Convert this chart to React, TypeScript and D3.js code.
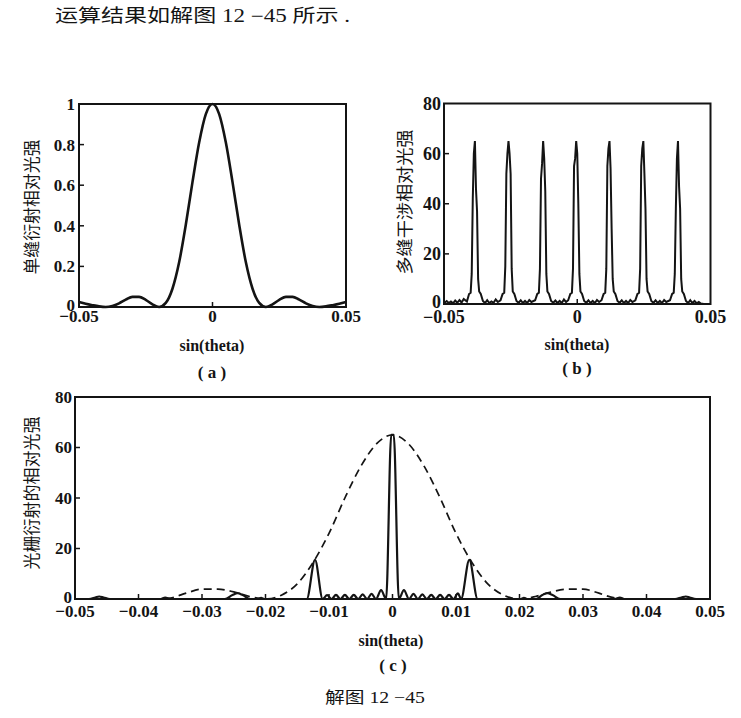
import React from 'react';
import * as d3 from 'd3';

// ---------- Data ----------
// (a) single-slit relative intensity
const slitX = [-0.05, -0.0475, -0.045, -0.0425, -0.04, -0.0375, -0.035, -0.0325, -0.03, -0.0275, -0.025, -0.0225, -0.02, -0.0175, -0.015, -0.0125, -0.01, -0.0075, -0.005, -0.0025, 0, 0.0025, 0.005, 0.0075, 0.01, 0.0125, 0.015, 0.0175, 0.02, 0.0225, 0.025, 0.0275, 0.03, 0.0325, 0.035, 0.0375, 0.04, 0.0425, 0.045, 0.0475, 0.05];
const slitI = [0.025, 0.016, 0.009, 0.003, 0.0, 0.005, 0.018, 0.036, 0.05, 0.05, 0.035, 0.013, 0.0, 0.02, 0.09, 0.22, 0.405, 0.615, 0.81, 0.95, 1.0, 0.95, 0.81, 0.615, 0.405, 0.22, 0.09, 0.02, 0.0, 0.013, 0.035, 0.05, 0.05, 0.036, 0.018, 0.005, 0.0, 0.003, 0.009, 0.016, 0.025];

// (b) multi-slit interference relative intensity
const multiSlit: [number, number][] = [
  [-0.05, 0.3], [-0.049, 1.2], [-0.0482, 0.4], [-0.0474, 1.0], [-0.0466, 0.3], [-0.0458, 1.4], [-0.045, 0.5], [-0.0442, 1.6], [-0.0434, 0.6], [-0.0426, 2.0],
  [-0.0414, 1.0], [-0.0406, 4], [-0.04, 4.5], [-0.0396, 12], [-0.0392, 42], [-0.0388, 60], [-0.0384, 65], [-0.038, 46], [-0.0376, 37], [-0.0372, 10], [-0.0368, 5], [-0.0362, 4], [-0.0354, 1.2],
  [-0.0346, 0.4], [-0.0338, 1.5], [-0.033, 0.4], [-0.0322, 1.0], [-0.0314, 0.5], [-0.0306, 1.8], [-0.0298, 0.8],
  [-0.0288, 1.5], [-0.028, 4], [-0.0274, 4.5], [-0.027, 15], [-0.0266, 52], [-0.0262, 60], [-0.0258, 65], [-0.0254, 60], [-0.025, 52], [-0.0246, 14], [-0.0242, 5], [-0.0236, 4], [-0.0228, 1.2],
  [-0.022, 0.5], [-0.0212, 1.5], [-0.0204, 0.4], [-0.0196, 1.2], [-0.0188, 0.4], [-0.018, 1.6], [-0.0172, 0.8],
  [-0.0158, 1.5], [-0.015, 4], [-0.0144, 4.5], [-0.014, 14], [-0.0136, 50], [-0.0132, 56], [-0.0128, 65], [-0.0124, 58], [-0.012, 45], [-0.0116, 12], [-0.0112, 5], [-0.0106, 4], [-0.0098, 1.2],
  [-0.009, 0.5], [-0.0082, 1.4], [-0.0074, 0.4], [-0.0066, 1.2], [-0.0058, 0.4], [-0.005, 1.8], [-0.0042, 0.8],
  [-0.0034, 1.5], [-0.0026, 4], [-0.002, 4.5], [-0.0016, 14], [-0.0012, 55], [-0.0008, 58], [-0.0004, 65], [0.0, 60], [0.0004, 40], [0.0008, 12], [0.0012, 5], [0.0018, 4], [0.0026, 1.2],
  [0.0034, 0.5], [0.0042, 1.5], [0.005, 0.4], [0.0058, 1.2], [0.0066, 0.4], [0.0074, 1.6], [0.0082, 0.8],
  [0.0091, 1.5], [0.0099, 4], [0.0105, 4.5], [0.0109, 14], [0.0113, 55], [0.0117, 62], [0.0121, 65], [0.0125, 54], [0.0129, 30], [0.0133, 10], [0.0137, 5], [0.0143, 4], [0.0151, 1.2],
  [0.0159, 0.5], [0.0167, 1.5], [0.0175, 0.4], [0.0183, 1.2], [0.0191, 0.4], [0.0199, 1.6], [0.0207, 0.8],
  [0.0218, 1.5], [0.0226, 4], [0.0232, 4.5], [0.0236, 14], [0.024, 55], [0.0244, 62], [0.0248, 65], [0.0252, 52], [0.0256, 38], [0.026, 10], [0.0264, 5], [0.027, 4], [0.0278, 1.2],
  [0.0286, 0.5], [0.0294, 1.5], [0.0302, 0.4], [0.031, 1.2], [0.0318, 0.4], [0.0326, 1.6], [0.0334, 0.8],
  [0.0348, 1.5], [0.0356, 4], [0.0362, 4.5], [0.0366, 12], [0.037, 38], [0.0374, 58], [0.0378, 65], [0.0382, 47], [0.0386, 38], [0.039, 10], [0.0394, 5], [0.04, 4], [0.0408, 1.2],
  [0.0416, 0.4], [0.0424, 1.5], [0.0432, 0.4], [0.044, 1.2], [0.0448, 0.3], [0.0456, 0.8], [0.0464, 0.2], [0.0475, 0], [0.05, 0],
];

// (c) grating: envelope (dashed) and grating intensity (solid)
const envX = [-0.05, -0.0475, -0.045, -0.0425, -0.04, -0.0375, -0.035, -0.0325, -0.03, -0.0275, -0.025, -0.0225, -0.02, -0.0175, -0.015, -0.0125, -0.01, -0.0075, -0.005, -0.0025, 0, 0.0025, 0.005, 0.0075, 0.01, 0.0125, 0.015, 0.0175, 0.02, 0.0225, 0.025, 0.0275, 0.03, 0.0325, 0.035, 0.0375, 0.04, 0.0425, 0.045, 0.0475, 0.05];
const envI = [0, 0, 0, 0, 0, 0, 0.4, 2.3, 3.9, 3.9, 2.8, 1.0, 0, 1.5, 6, 14.5, 26, 40, 52.5, 61.5, 65, 61.5, 52.5, 40, 26, 14.5, 6, 1.5, 0, 1.0, 2.8, 3.9, 3.9, 2.3, 0.4, 0, 0, 0, 0, 0, 0];

const grating: [number, number][] = [
  [-0.05, 0], [-0.0478, 0], [-0.0468, 0.6], [-0.0462, 1.0], [-0.0455, 0.6], [-0.0445, 0],
  [-0.0365, 0], [-0.0358, 0.6], [-0.035, 0],
  [-0.0264, 0], [-0.0252, 1.6], [-0.0244, 2.3], [-0.0236, 1.6], [-0.0224, 0],
  [-0.0212, 0], [-0.0207, 0.5], [-0.0202, 0],
  [-0.0135, 0], [-0.0122, 15.5], [-0.0110, 0],
  [-0.0103, 1.5], [-0.0096, 0], [-0.0089, 1.6], [-0.0082, 0], [-0.0075, 1.6], [-0.0068, 0], [-0.0061, 1.6], [-0.0054, 0], [-0.0047, 1.8], [-0.004, 0], [-0.0033, 2.0], [-0.0026, 0], [-0.0018, 3.5], [-0.0010, 0],
  [-0.0002, 65], [0.0002, 65],
  [0.0010, 0], [0.0018, 3.5], [0.0026, 0], [0.0033, 2.0], [0.004, 0], [0.0047, 1.8], [0.0054, 0], [0.0061, 1.6], [0.0068, 0], [0.0075, 1.6], [0.0082, 0], [0.0089, 1.6], [0.0096, 0], [0.0103, 2.2],
  [0.0108, 0], [0.0121, 15.5], [0.0134, 0],
  [0.0202, 0], [0.0207, 0.5], [0.0212, 0],
  [0.0226, 0], [0.0236, 1.6], [0.0244, 2.3], [0.0252, 1.6], [0.0264, 0],
  [0.035, 0], [0.0358, 0.6], [0.0365, 0],
  [0.0445, 0], [0.0455, 0.6], [0.0462, 1.0], [0.0468, 0.6], [0.0478, 0], [0.05, 0],
];

// tick values / labels
const xTicksAB = [-0.05, 0, 0.05];
const xTicksC = [-0.05, -0.04, -0.03, -0.02, -0.01, 0, 0.01, 0.02, 0.03, 0.04, 0.05];
const yTicksA = [0, 0.2, 0.4, 0.6, 0.8, 1];
const yTicksBC = [0, 20, 40, 60, 80];

const headerText = '运算结果如解图 12 −45 所示 .';
const captionText = '解图 12 −45';
const xTitle = 'sin(theta)';
const yTitleA = '单缝衍射相对光强';
const yTitleB = '多缝干涉相对光强';
const yTitleC = '光栅衍射的相对光强';

const INK = '#141414';
const LATIN = "'Liberation Serif', 'Times New Roman', serif";
const CJK = "'Liberation Serif', 'Noto Sans CJK SC', sans-serif";

const fmtX = (v: number) => (v === 0 ? '0' : (v < 0 ? '−' : '') + Math.abs(v).toFixed(2));
const fmtY = (v: number) => d3.format('~g')(v);

type AxesProps = {
  xs: d3.ScaleLinear<number, number>;
  ys: d3.ScaleLinear<number, number>;
  xTicks: number[];
  yTicks: number[];
  yLabelRight: number;
  xLabelBaseline: number;
  fs: number;
};

function Axes({ xs, ys, xTicks, yTicks, yLabelRight, xLabelBaseline, fs }: AxesProps) {
  const [l, r] = xs.range();
  const [b, t] = ys.range();
  return (
    <g>
      <rect x={l} y={t} width={r - l} height={b - t} fill="none" stroke={INK} strokeWidth={2} />
      {yTicks.map((v) => (
        <g key={'y' + v}>
          {v !== yTicks[0] && v !== yTicks[yTicks.length - 1] && (
            <line x1={l} x2={l + 5} y1={ys(v)} y2={ys(v)} stroke={INK} strokeWidth={1.5} />
          )}
          <text x={yLabelRight} y={ys(v) - (v === yTicks[0] ? 2 : 0)} dy="0.35em" textAnchor="end" fontFamily={LATIN} fontWeight="bold" fontSize={fs} fill={INK}>
            {fmtY(v)}
          </text>
        </g>
      ))}
      {xTicks.map((v) => (
        <g key={'x' + v}>
          {v !== xTicks[0] && v !== xTicks[xTicks.length - 1] && (
            <line x1={xs(v)} x2={xs(v)} y1={b} y2={b - 5} stroke={INK} strokeWidth={1.5} />
          )}
          <text x={xs(v)} y={xLabelBaseline} textAnchor="middle" fontFamily={LATIN} fontWeight="bold" fontSize={fs} fill={INK}>
            {fmtX(v)}
          </text>
        </g>
      ))}
    </g>
  );
}

function YTitle({ x, y, text, len }: { x: number; y: number; text: string; len: number }) {
  return (
    <text
      transform={`translate(${x},${y}) rotate(-90)`}
      textAnchor="middle"
      dy="0.35em"
      fontFamily="'Noto Sans CJK SC', sans-serif"
      fontSize={17}
      fill={INK}
      textLength={len}
      lengthAdjust="spacingAndGlyphs"
    >
      {text}
    </text>
  );
}

export default function App() {
  // panel (a)
  const xa = d3.scaleLinear().domain([-0.05, 0.05]).range([79, 346]);
  const ya = d3.scaleLinear().domain([0, 1]).range([307, 104]);
  const lineA = d3
    .line<number>()
    .x((_, i) => xa(slitX[i]))
    .y((d) => ya(d))
    .curve(d3.curveMonotoneX);

  // panel (b)
  const xb = d3.scaleLinear().domain([-0.05, 0.05]).range([444, 710.5]);
  const yb = d3.scaleLinear().domain([0, 80]).range([304, 103.5]);
  const lineB = d3
    .line<[number, number]>()
    .x((d) => xb(d[0]))
    .y((d) => yb(d[1]));

  // panel (c)
  const xc = d3.scaleLinear().domain([-0.05, 0.05]).range([75, 710]);
  const yc = d3.scaleLinear().domain([0, 80]).range([599, 397]);
  const lineEnv = d3
    .line<number>()
    .x((_, i) => xc(envX[i]))
    .y((d) => yc(d))
    .curve(d3.curveMonotoneX);
  const lineC = d3
    .line<[number, number]>()
    .x((d) => xc(d[0]))
    .y((d) => yc(d[1]))
    .curve(d3.curveMonotoneX);

  return (
    <svg width={741} height={718} style={{ position: 'absolute', left: 0, top: 0, background: '#fff' }}>
      <rect x={0} y={0} width={741} height={718} fill="#fff" />
      {/* header line */}
      <text x={55} y={22} fontFamily={CJK} fontSize={18} fill={INK} textLength={295} lengthAdjust="spacingAndGlyphs">
        {headerText}
      </text>

      {/* (a) */}
      <path d={lineA(slitI) || ''} fill="none" stroke={INK} strokeWidth={2.6} />
      <Axes xs={xa} ys={ya} xTicks={xTicksAB} yTicks={yTicksA} yLabelRight={75} xLabelBaseline={322} fs={17} />
      <YTitle x={32} y={207} text={yTitleA} len={135} />
      <text x={212} y={351} textAnchor="middle" fontFamily={LATIN} fontWeight="bold" fontSize={16} fill={INK}>{xTitle}</text>
      <text x={212} y={378} textAnchor="middle" fontFamily={LATIN} fontWeight="bold" fontSize={17} fill={INK} xmlSpace="preserve">( a )</text>

      {/* (b) */}
      <path d={lineB(multiSlit) || ''} fill="none" stroke={INK} strokeWidth={2} strokeLinejoin="miter" />
      <Axes xs={xb} ys={yb} xTicks={xTicksAB} yTicks={yTicksBC} yLabelRight={441} xLabelBaseline={323} fs={18} />
      <YTitle x={405} y={202} text={yTitleB} len={145} />
      <text x={577} y={350} textAnchor="middle" fontFamily={LATIN} fontWeight="bold" fontSize={16} fill={INK}>{xTitle}</text>
      <text x={577} y={374} textAnchor="middle" fontFamily={LATIN} fontWeight="bold" fontSize={17} fill={INK} xmlSpace="preserve">( b )</text>

      {/* (c) */}
      <path d={lineEnv(envI) || ''} fill="none" stroke={INK} strokeWidth={1.7} strokeDasharray="8 5" />
      <path d={lineC(grating) || ''} fill="none" stroke={INK} strokeWidth={2.2} />
      <Axes xs={xc} ys={yc} xTicks={xTicksC} yTicks={yTicksBC} yLabelRight={72} xLabelBaseline={617} fs={17} />
      <YTitle x={32} y={493} text={yTitleC} len={153} />
      <text x={391} y={646} textAnchor="middle" fontFamily={LATIN} fontWeight="bold" fontSize={16} fill={INK}>{xTitle}</text>
      <text x={393} y={671} textAnchor="middle" fontFamily={LATIN} fontWeight="bold" fontSize={17} fill={INK} xmlSpace="preserve">( c )</text>

      {/* caption */}
      <text x={375} y={703} textAnchor="middle" fontFamily={CJK} fontSize={16} fill={INK} textLength={100} lengthAdjust="spacingAndGlyphs">
        {captionText}
      </text>
    </svg>
  );
}
